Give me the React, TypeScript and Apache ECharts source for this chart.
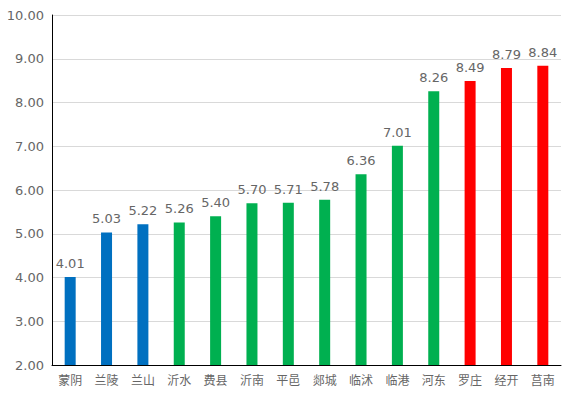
import React, { useEffect, useRef } from "react";
import * as echarts from "echarts";

const categories = ["蒙阴", "兰陵", "兰山", "沂水", "费县", "沂南", "平邑", "郯城", "临沭", "临港", "河东", "罗庄", "经开", "莒南"];
const values = [4.01, 5.03, 5.22, 5.26, 5.4, 5.7, 5.71, 5.78, 6.36, 7.01, 8.26, 8.49, 8.79, 8.84];
const colors = ["#0070C0", "#0070C0", "#0070C0", "#00B050", "#00B050", "#00B050", "#00B050", "#00B050", "#00B050", "#00B050", "#00B050", "#FF0000", "#FF0000", "#FF0000"];

export default function App() {
  const ref = useRef<HTMLDivElement>(null);
  useEffect(() => {
    const chart = echarts.init(ref.current!, null, { renderer: "svg" });
    chart.setOption({
      animation: false,
      grid: { left: 52, right: 13, top: 15, bottom: 31 },
      xAxis: {
        type: "category",
        data: categories,
        axisLine: { lineStyle: { color: "#000", width: 1 } },
        axisTick: { show: false },
        axisLabel: { color: "#666666", fontSize: 12, margin: 8, fontFamily: "Noto Sans CJK SC" },
      },
      yAxis: {
        type: "value",
        min: 2,
        max: 10,
        interval: 1,
        axisLine: { show: true, lineStyle: { color: "#000", width: 1 } },
        axisTick: { show: false },
        splitLine: { lineStyle: { color: "#d9d9d9" } },
        axisLabel: { color: "#666666", fontSize: 13, margin: 8, fontFamily: "DejaVu Sans", formatter: (v: number) => v.toFixed(2) },
      },
      series: [
        {
          type: "bar",
          barWidth: 11,
          data: values.map((v, i) => ({ value: v, itemStyle: { color: colors[i] } })),
          label: {
            show: true,
            position: "top",
            distance: 7,
            color: "#666666",
            fontSize: 13,
            fontFamily: "DejaVu Sans",
            formatter: (p: any) => p.value.toFixed(2),
          },
        },
      ],
    });
    return () => chart.dispose();
  }, []);
  return <div ref={ref} style={{ width: 574, height: 396, position: "absolute", left: 0, top: 0 }} />;
}
